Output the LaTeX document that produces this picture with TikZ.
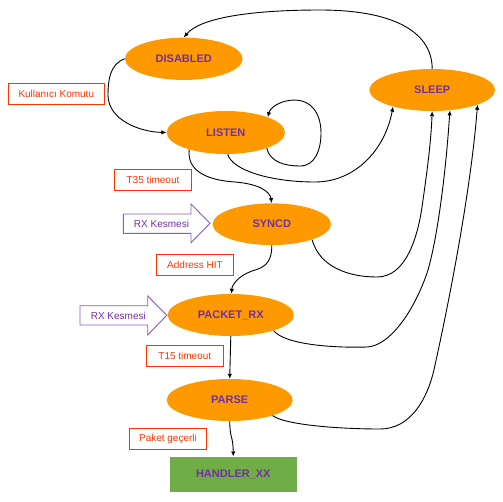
\documentclass[tikz,border=0pt]{standalone}
\usepackage{fontspec}
\setmainfont{Liberation Sans}
\usetikzlibrary{shapes.geometric,arrows.meta}
\definecolor{stfill}{HTML}{FF9900}
\definecolor{sttext}{HTML}{7030A0}
\definecolor{lblred}{HTML}{FF3300}
\definecolor{hgreen}{HTML}{70AD47}
\definecolor{rxline}{HTML}{8A5CC0}
\tikzset{
  state/.style={ellipse, fill=stfill, inner sep=0pt, text=sttext, font=\fontsize{11}{13}\selectfont\bfseries},
  lbl/.style={draw=lblred, line width=0.9pt, text=lblred, inner sep=0pt, font=\fontsize{10}{12}\selectfont},
  hbox/.style={rectangle, fill=hgreen, inner sep=0pt, text=sttext, font=\fontsize{11}{13}\selectfont\bfseries, minimum width=126.7pt, minimum height=35pt},
  conn/.style={draw=black, line width=0.9pt, -{Latex[length=5pt,width=4.5pt]}},
  rxarrow/.style={draw=rxline, line width=0.9pt, fill=white},
  rxtext/.style={text=sttext, inner sep=0pt, font=\fontsize{10}{12}\selectfont}
}
\begin{document}
\begin{tikzpicture}[x=1pt,y=-1pt]
\useasboundingbox (0,0) rectangle (503,501);
% states
\node[state, minimum width=117.7pt, minimum height=42.3pt] (dis) at (183.8,58.8) {DISABLED};
\node[state, minimum width=125.7pt, minimum height=42pt] (slp) at (432.2,90) {SLEEP};
\node[state, minimum width=118.3pt, minimum height=43pt] (lis) at (225.8,132.5) {LISTEN};
\node[state, minimum width=118.3pt, minimum height=41.7pt] (syn) at (271.8,224.2) {SYNCD};
\node[state, minimum width=126.3pt, minimum height=42pt] (pkt) at (230.8,315) {PACKET\_RX};
\node[state, minimum width=126pt, minimum height=42pt] (par) at (229.7,400) {PARSE};
\node[hbox] (hnd) at (233.3,474.2) {HANDLER\_XX};
% labels
\node[lbl, minimum width=96pt, minimum height=21pt] (l1) at (56.3,93.8) {Kullanıcı Komutu};
\node[lbl, minimum width=77.4pt, minimum height=21pt] (l2) at (153,179.8) {T35 timeout};
\node[lbl, minimum width=76.7pt, minimum height=21pt] (l3) at (195,264.8) {Address HIT};
\node[lbl, minimum width=77pt, minimum height=20.7pt] (l4) at (184.8,355.7) {T15 timeout};
\node[lbl, minimum width=77.3pt, minimum height=21pt] (l5) at (168,438.8) {Paket geçerli};
% RX arrows
\draw[rxarrow] (123.3,214) -- (191,214) -- (191,204) -- (210,223.3) -- (191,242.7) -- (191,233.3) -- (123.3,233.3) -- cycle;
\node[rxtext] (rx1) at (161.5,223.5) {RX Kesmesi};
\draw[rxarrow] (80,305.7) -- (147.7,305.7) -- (147.7,296) -- (166.7,315.3) -- (147.7,335) -- (147.7,325) -- (80,325) -- cycle;
\node[rxtext] (rx2) at (118.3,315.5) {RX Kesmesi};
% connectors
\draw[conn] (dis.west) .. controls (110,64) and (108,80) .. (108,95) .. controls (108,120) and (140,132) .. (lis.west);
\draw[conn] (slp.north) .. controls (432,30) and (390,10) .. (320,10) .. controls (250,10) and (200,18) .. (dis.north);
\draw[conn] (lis.-21) .. controls (270,162) and (285,166) .. (300,166) .. controls (315,166) and (321,150) .. (321,133) .. controls (321,112) and (310,100) .. (295,100) .. controls (280,100) and (270,108) .. (lis.20);
\draw[conn] (lis.-85) .. controls (232,170) and (270,182) .. (315,182) .. controls (355,182) and (385,150) .. (slp.-157);
\draw[conn] (lis.-155) .. controls (187,170) and (205,180) .. (235,182) .. controls (260,184) and (270,192) .. (syn.north);
\draw[conn] (syn.-21) .. controls (320,268) and (350,277) .. (377,277) .. controls (405,277) and (418,240) .. (423,200) .. controls (428,165) and (431,140) .. (slp.-90);
\draw[conn] (syn.south) .. controls (272,265) and (262,268) .. (252,271) .. controls (238,276) and (232,285) .. (pkt.88);
\draw[conn] (pkt.-20) .. controls (285,345) and (335,348) .. (367,347) .. controls (390,346) and (415,310) .. (428,270) .. controls (438,235) and (446,170) .. (slp.-49);
\draw[conn] (pkt.south) -- (par.north);
\draw[conn] (par.-20) .. controls (285,425) and (340,429) .. (380,429) .. controls (410,429) and (428,400) .. (435,365) .. controls (445,320) and (470,200) .. (slp.-18.5);
\draw[conn] (par.south) .. controls (230,440) and (233,435) .. (hnd.north);
\end{tikzpicture}
\end{document}
